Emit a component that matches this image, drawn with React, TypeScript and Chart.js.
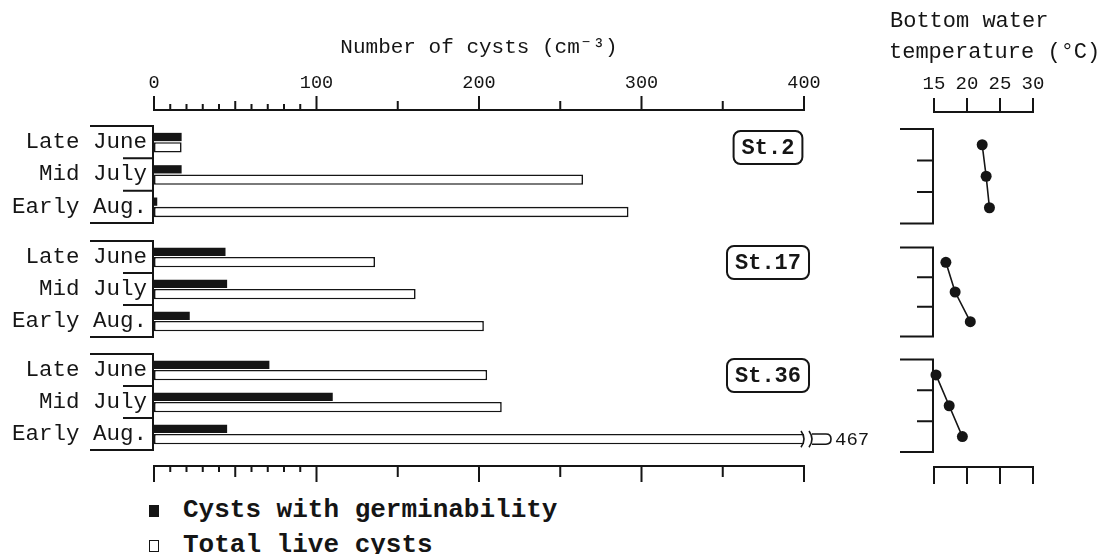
import { useEffect, useRef } from 'react';
import { Chart, registerables } from 'chart.js';

Chart.register(...registerables);

const INK = '#151515';
const MONO = "'Liberation Mono', 'DejaVu Sans Mono', monospace";

// ---- data ----
const periods = ['Late June', 'Mid July', 'Early Aug.'];
const stationNames = ['St.2', 'St.17', 'St.36'];
const germSt2 = [17, 17, 2];
const totalSt2 = [17, 264, 292];
const germSt17 = [44, 45, 22];
const totalSt17 = [136, 161, 203];
const germSt36 = [71, 110, 45];
const totalSt36 = [205, 214, 467];
const tempSt2 = [22.3, 22.9, 23.4];
const tempSt17 = [16.8, 18.2, 20.5];
const tempSt36 = [15.3, 17.3, 19.3];
const cystTickValues = [0, 10, 20, 30, 40, 50, 60, 70, 80, 90, 100, 150, 200, 250, 300, 350, 400];
const cystLabelValues = [0, 100, 200, 300, 400];
const tempTickValues = [15, 20, 25, 30];

type Side = 'top' | 'bottom';

function axisMarks(side: Side, gap: number, values: number[], lenOf: (v: number) => number) {
  return {
    id: 'axisMarks' + side,
    afterDraw(chart: any) {
      const xs = chart.scales.x;
      const { ctx, chartArea } = chart;
      const y0 = side === 'top' ? chartArea.top - gap : chartArea.bottom + gap;
      const dir = side === 'top' ? -1 : 1;
      ctx.save();
      ctx.strokeStyle = INK;
      ctx.lineWidth = 2;
      ctx.beginPath();
      const xa = xs.getPixelForValue(values[0]);
      const xb = xs.getPixelForValue(values[values.length - 1]);
      ctx.moveTo(xa - 1, y0);
      ctx.lineTo(xb + 1, y0);
      for (const v of values) {
        const px = xs.getPixelForValue(v);
        ctx.moveTo(px, y0);
        ctx.lineTo(px, y0 + dir * lenOf(v));
      }
      ctx.stroke();
      ctx.restore();
    },
  };
}

function bracket(outer: number, inner: number) {
  return {
    id: 'bracket',
    afterDraw(chart: any) {
      const ys = chart.scales.y;
      const { ctx, chartArea: ca } = chart;
      const n = chart.data.labels.length;
      const left = ca.left - 1;
      ctx.save();
      ctx.strokeStyle = INK;
      ctx.lineWidth = 2;
      ctx.beginPath();
      ctx.moveTo(left, ca.top - 1);
      ctx.lineTo(left, ca.bottom + 1);
      for (let i = 0; i <= n; i++) {
        const py =
          i === 0 ? ca.top : i === n ? ca.bottom : (ys.getPixelForValue(i - 1) + ys.getPixelForValue(i)) / 2;
        const len = i === 0 || i === n ? outer : inner;
        ctx.moveTo(left - len, py);
        ctx.lineTo(left, py);
      }
      ctx.stroke();
      ctx.restore();
    },
  };
}

function stationTag(text: string) {
  return {
    id: 'stationTag',
    afterDraw(chart: any) {
      const { ctx, chartArea: ca } = chart;
      ctx.save();
      ctx.font = `bold 22px ${MONO}`;
      const w = ctx.measureText(text).width + 16;
      const h = 33;
      const cx = ca.right - 36;
      const top = ca.top + 5;
      ctx.strokeStyle = INK;
      ctx.lineWidth = 2;
      ctx.beginPath();
      ctx.roundRect(cx - w / 2, top, w, h, 7);
      ctx.stroke();
      ctx.fillStyle = INK;
      ctx.textAlign = 'center';
      ctx.textBaseline = 'middle';
      ctx.fillText(text, cx, top + h / 2 + 1);
      ctx.restore();
    },
  };
}

const brokenBar = {
  id: 'brokenBar',
  afterDatasetsDraw(chart: any) {
    const xs = chart.scales.x;
    const meta = chart.getDatasetMeta(1);
    const values = chart.data.datasets[1].data as number[];
    const { ctx } = chart;
    values.forEach((v, i) => {
      if (v <= xs.max) return;
      const el = meta.data[i];
      const { y, height } = el.getProps(['y', 'height'], true);
      const xb = xs.getPixelForValue(xs.max);
      const t = y - height / 2;
      const b = y + height / 2;
      ctx.save();
      ctx.strokeStyle = INK;
      ctx.lineWidth = 1.6;
      ctx.beginPath();
      ctx.moveTo(xb - 3, t - 3);
      ctx.quadraticCurveTo(xb + 3, y, xb - 3, b + 3);
      ctx.moveTo(xb + 5, t - 3);
      ctx.quadraticCurveTo(xb + 11, y, xb + 5, b + 3);
      ctx.moveTo(xb + 8, t);
      ctx.lineTo(xb + 22, t);
      ctx.quadraticCurveTo(xb + 27, t, xb + 27, y);
      ctx.quadraticCurveTo(xb + 27, b, xb + 22, b);
      ctx.lineTo(xb + 8, b);
      ctx.stroke();
      ctx.fillStyle = INK;
      ctx.font = `19px ${MONO}`;
      ctx.textBaseline = 'middle';
      ctx.textAlign = 'left';
      ctx.fillText(String(v), xb + 31, y + 1);
      ctx.restore();
    });
  },
};

const cystLen = (major: number, mid: number, minor: number) => (v: number) =>
  v % 100 === 0 ? major : v % 50 === 0 ? mid : minor;

const noPad = (s: any) => {
  s.paddingTop = 0;
  s.paddingBottom = 0;
  s.paddingLeft = 0;
  s.paddingRight = 0;
};

function barChart(
  canvas: HTMLCanvasElement,
  germ: number[],
  total: number[],
  station: string,
  showTop: boolean,
  showBottom: boolean,
  padding: any
) {
  const plugins: any[] = [bracket(63, 30), stationTag(station)];
  if (showTop) plugins.push(axisMarks('top', 16, cystTickValues, cystLen(14, 9, 6)));
  if (showBottom) {
    plugins.push(axisMarks('bottom', 16, cystTickValues, cystLen(16, 11, 6)));
    plugins.push(brokenBar);
  }
  const x: any = {
    type: 'linear',
    min: 0,
    max: 400,
    position: 'top',
    display: showTop,
    grid: { display: false, drawTicks: false },
    border: { display: false },
    ticks: { font: { family: MONO, size: 18.5 }, color: INK, padding: 31.4, maxRotation: 0, autoSkip: false },
    afterBuildTicks: (s: any) => {
      s.ticks = cystLabelValues.map((value) => ({ value }));
    },
    title: {
      display: true,
      text: 'Number of cysts (cm⁻³)',
      font: { family: MONO, size: 21 },
      color: INK,
      padding: { top: 34.4, bottom: 0 },
    },
  };
  if (showTop) {
    x.afterFit = (s: any) => {
      s.height = 126;
      noPad(s);
    };
  }
  return new Chart(canvas, {
    type: 'bar',
    data: {
      labels: periods,
      datasets: [
        {
          label: 'Cysts with germinability',
          data: germ,
          backgroundColor: INK,
          borderWidth: 0,
          barPercentage: 0.8,
          categoryPercentage: 0.64,
        },
        {
          label: 'Total live cysts',
          data: total,
          backgroundColor: '#ffffff',
          borderColor: INK,
          borderWidth: 1.6,
          borderSkipped: false,
          barPercentage: 1,
          categoryPercentage: 0.64,
        },
      ],
    },
    options: {
      indexAxis: 'y',
      animation: false,
      responsive: false,
      events: [],
      layout: { padding },
      plugins: { legend: { display: false }, tooltip: { enabled: false } },
      scales: {
        x,
        y: {
          type: 'category',
          offset: true,
          grid: { display: false, drawTicks: false },
          border: { display: false },
          ticks: { font: { family: MONO, size: 22.5 }, color: INK, padding: 7, autoSkip: false },
          afterFit: (s: any) => {
            s.width = 154;
            noPad(s);
          },
        },
      },
    } as any,
    plugins,
  });
}

function tempChart(
  canvas: HTMLCanvasElement,
  temps: number[],
  showTop: boolean,
  showBottom: boolean,
  padding: any
) {
  const plugins: any[] = [bracket(33, 16)];
  if (showTop) plugins.push(axisMarks('top', 17, tempTickValues, () => 14));
  if (showBottom) plugins.push(axisMarks('bottom', 15, tempTickValues, () => 17));
  const x: any = {
    type: 'linear',
    min: 15,
    max: 30,
    position: 'top',
    display: showTop,
    grid: { display: false, drawTicks: false },
    border: { display: false },
    ticks: { font: { family: MONO, size: 19 }, color: INK, padding: 33.6, maxRotation: 0, autoSkip: false },
    afterBuildTicks: (s: any) => {
      s.ticks = tempTickValues.map((value) => ({ value }));
    },
  };
  if (showTop) {
    x.afterFit = (s: any) => {
      s.height = 129;
      noPad(s);
    };
  }
  return new Chart(canvas, {
    type: 'line',
    data: {
      labels: periods,
      datasets: [
        {
          label: 'Bottom water temperature',
          data: temps,
          borderColor: INK,
          borderWidth: 1.6,
          pointRadius: 5.5,
          pointBackgroundColor: INK,
          pointBorderWidth: 0,
          tension: 0,
          clip: false,
        },
      ],
    },
    options: {
      indexAxis: 'y',
      animation: false,
      responsive: false,
      events: [],
      layout: { padding },
      plugins: { legend: { display: false }, tooltip: { enabled: false } },
      scales: {
        x,
        y: { type: 'category', offset: true, display: false },
      },
    } as any,
    plugins,
  });
}

export default function App() {
  const l1 = useRef<HTMLCanvasElement>(null);
  const l2 = useRef<HTMLCanvasElement>(null);
  const l3 = useRef<HTMLCanvasElement>(null);
  const r1 = useRef<HTMLCanvasElement>(null);
  const r2 = useRef<HTMLCanvasElement>(null);
  const r3 = useRef<HTMLCanvasElement>(null);

  useEffect(() => {
    const charts = [
      barChart(l1.current!, germSt2, totalSt2, stationNames[0], true, false, { left: 0, right: 96, top: 0, bottom: 3 }),
      barChart(l2.current!, germSt17, totalSt17, stationNames[1], false, false, { left: 0, right: 96, top: 2, bottom: 2 }),
      barChart(l3.current!, germSt36, totalSt36, stationNames[2], false, true, { left: 0, right: 96, top: 2, bottom: 40 }),
      tempChart(r1.current!, tempSt2, true, false, { left: 54, right: 67, top: 0, bottom: 2 }),
      tempChart(r2.current!, tempSt17, false, false, { left: 54, right: 67, top: 2, bottom: 2 }),
      tempChart(r3.current!, tempSt36, false, true, { left: 54, right: 67, top: 2, bottom: 40 }),
    ];
    return () => charts.forEach((c) => c.destroy());
  }, []);

  const abs = (left: number, top: number): any => ({ position: 'absolute', left, top, display: 'block' });
  const text = (left: number, top: number, size: number, lh: number, bold = false): any => ({
    position: 'absolute',
    left,
    top,
    fontFamily: MONO,
    fontSize: size,
    lineHeight: lh + 'px',
    fontWeight: bold ? 'bold' : 'normal',
    color: INK,
    whiteSpace: 'nowrap',
  });

  return (
    <div style={{ position: 'absolute', left: 0, top: 0, width: 1100, height: 554, background: '#fff', overflow: 'hidden' }}>
      <canvas ref={l1} width={900} height={226} style={abs(0, 0)} />
      <canvas ref={l2} width={900} height={100} style={abs(0, 239)} />
      <canvas ref={l3} width={900} height={138} style={abs(0, 352)} />
      <canvas ref={r1} width={220} height={229} style={abs(880, 0)} />
      <canvas ref={r2} width={220} height={100} style={abs(880, 242)} />
      <canvas ref={r3} width={220} height={138} style={abs(880, 354)} />

      <div style={text(890, 9, 22, 26)}>Bottom water</div>
      <div style={text(889, 40, 22, 26)}>temperature (°C)</div>

      <div style={{ position: 'absolute', left: 149, top: 505, width: 10, height: 12, background: INK }} />
      <div style={text(183, 495, 26, 30, true)}>Cysts with germinability</div>
      <div
        style={{
          position: 'absolute',
          left: 149,
          top: 540,
          width: 10,
          height: 12,
          border: `1.5px solid ${INK}`,
          boxSizing: 'border-box',
          background: '#fff',
        }}
      />
      <div style={text(183, 530, 26, 30, true)}>Total live cysts</div>
    </div>
  );
}
